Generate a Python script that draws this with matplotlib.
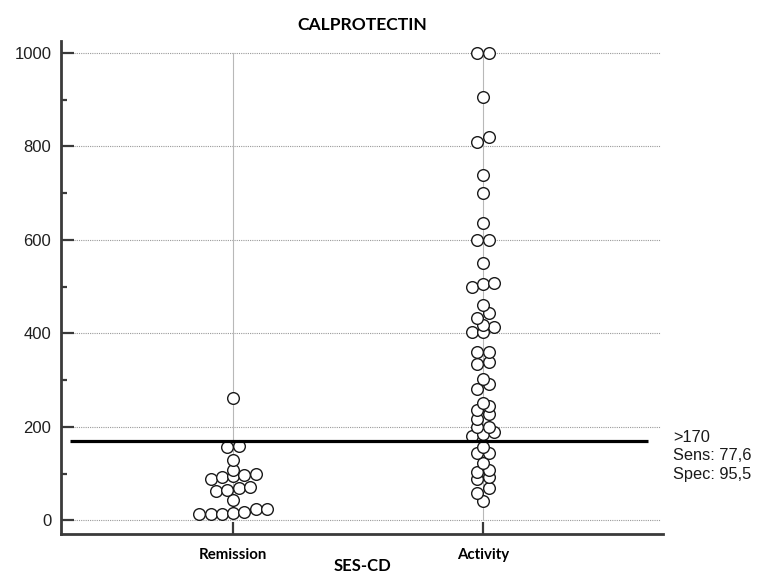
import numpy as np
import matplotlib
matplotlib.use("Agg")
import matplotlib.pyplot as plt

# ---------------- data ----------------
categories = ["Remission", "Activity"]
remission = [14, 14, 14, 15, 19, 25, 25, 44, 63, 65, 69, 71, 88, 93, 96, 97, 100,
             108, 129, 158, 159, 261]
activity = [42, 58, 70, 89, 94, 104, 108, 124, 144, 144, 158,
            181, 184, 190, 199, 200, 217, 228, 236, 245, 252, 281, 291, 302,
            335, 338, 360, 361, 403, 403, 414, 418, 434, 444, 461,
            499, 505, 509, 550, 600, 601, 637, 700, 739, 810, 821, 906, 1000, 1000]
cutoff = 170
cutoff_text = [">170", "Sens: 77,6", "Spec: 95,5"]
y_major = [0, 200, 400, 600, 800, 1000]
y_minor = [100, 300, 500, 700, 900]
title = "CALPROTECTIN"
xlabel = "SES-CD"

# ---------------- layout helpers ----------------
def group_offsets(values, width, step):
    """Dot-plot layout: group nearby values (ascending) and centre each group."""
    vals = np.asarray(values, dtype=float)
    order = np.argsort(vals, kind="stable")
    groups, cur, start = [], [], None
    for i in order:
        if cur and vals[i] - start < width:
            cur.append(i)
        else:
            if cur:
                groups.append(cur)
            cur, start = [i], vals[i]
    if cur:
        groups.append(cur)
    offs = np.zeros(len(vals))
    for g in groups:
        n = len(g)
        for k, idx in enumerate(g):
            offs[idx] = (k - (n - 1) / 2.0) * step
    return offs

W, H = 757, 574
fig = plt.figure(figsize=(W / 100, H / 100), dpi=100)
ax_l, ax_r, ax_b, ax_t = 61, 663, 534, 40.5
ax = fig.add_axes([ax_l / W, (H - ax_b) / H, (ax_r - ax_l) / W, (ax_b - ax_t) / H])

ax.set_xlim(-0.688, 1.72)
ax.set_ylim(-28.9, 1026.7)

dark = "#3a3a3a"
for s in ["top", "right"]:
    ax.spines[s].set_visible(False)
for s in ["left", "bottom"]:
    ax.spines[s].set_color(dark)
    ax.spines[s].set_linewidth(2.0)

# grid lines (horizontal dotted)
for yv in y_major:
    ax.plot([-0.636, 1.708], [yv, yv], color="#9a9a9a", lw=0.8,
            linestyle=(0, (1, 1)), zorder=1)

# vertical category lines
xpos = np.arange(len(categories))
for xp in xpos:
    ax.plot([xp, xp], [y_major[0], y_major[-1]], color="#b8b8b8", lw=0.8, zorder=1)

# points
step = 0.045
for xp, vals in zip(xpos, [remission, activity]):
    offs = group_offsets(vals, 13, step)
    ax.plot(xp + offs, vals, linestyle="none", marker="o", ms=8.4,
            mfc="white", mec="#1a1a1a", mew=1.0, zorder=3)

# cutoff line
ax.plot([-0.652, 1.66], [cutoff, cutoff], color="black", lw=2.3, zorder=4,
        solid_capstyle="butt")

# ticks
ax.set_yticks(y_major)
ax.set_yticks(y_minor, minor=True)
ax.tick_params(axis="y", which="major", direction="in", length=9, width=1.6,
               color=dark, pad=7, labelsize=12, labelcolor="#202020")
ax.tick_params(axis="y", which="minor", direction="in", length=4, width=1.6, color=dark)
for lab in ax.get_yticklabels():
    lab.set_fontfamily("Liberation Sans")

ax.set_xticks(xpos)
ax.set_xticklabels(categories, fontfamily="Lato", fontweight="bold", fontsize=10.8)
ax.tick_params(axis="x", which="major", direction="in", length=9, width=1.6,
               color=dark, pad=10)

fig.text((ax_l + ax_r) / 2 / W, 1 - 25 / H, title, fontfamily="Lato",
         fontweight="bold", fontsize=12.6, ha="center", va="center")
fig.text((ax_l + ax_r) / 2 / W, 1 - 566 / H, xlabel, fontfamily="Lato",
         fontweight="bold", fontsize=12, ha="center", va="center")

# cutoff annotation
for i, t in enumerate(cutoff_text):
    fig.text(673 / W, 1 - (437 + 19 * i) / H, t, fontfamily="Liberation Sans",
             fontsize=11.8, color="#1a1a1a", va="center", ha="left")

fig.savefig("out.png", dpi=100)
